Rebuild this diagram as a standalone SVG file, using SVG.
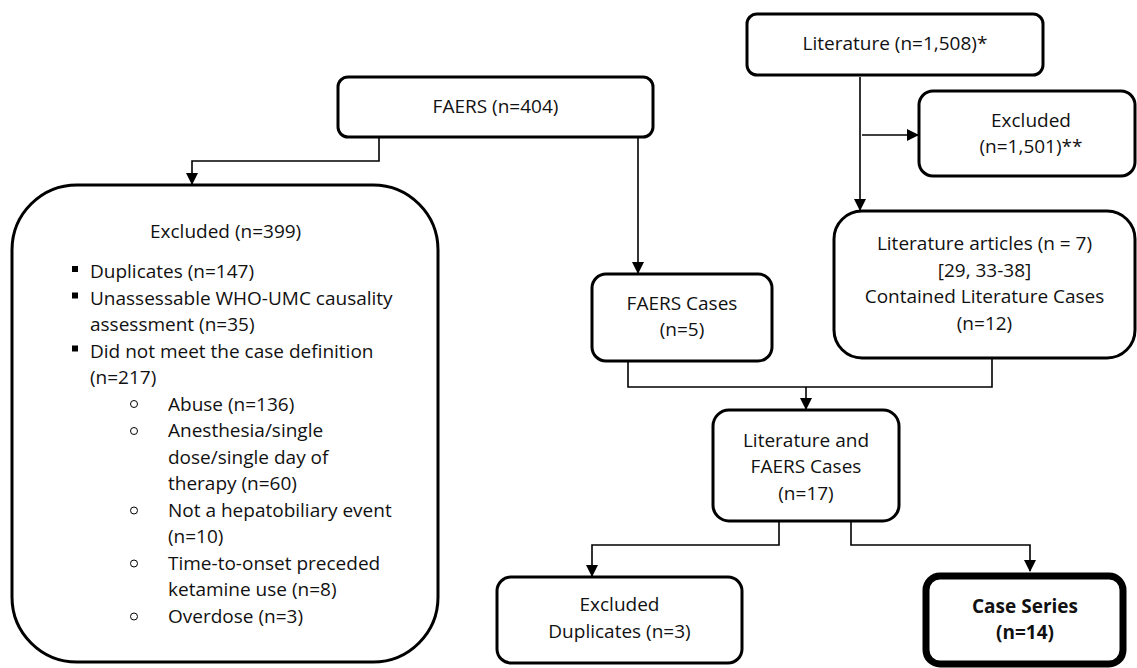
<svg xmlns="http://www.w3.org/2000/svg" width="1137" height="668" viewBox="0 0 1137 668">
<style>
.box{fill:#fff;stroke:#000;stroke-width:3}
.thick{fill:#fff;stroke:#000;stroke-width:7}
.conn{fill:none;stroke:#000;stroke-width:1.6}
text{font-family:"Open Sans","Liberation Sans",sans-serif;font-size:19px;fill:#111}
.c{text-anchor:middle}
.b{font-weight:bold}
.sq{fill:#000}
.ci{fill:none;stroke:#000;stroke-width:1}
</style>
<defs>
<marker id="ah" markerUnits="userSpaceOnUse" markerWidth="12" markerHeight="12" refX="11" refY="6" orient="auto">
<path d="M0,0 L12,6 L0,12 z" fill="#000"/>
</marker>
</defs>
<rect width="1137" height="668" fill="#fff"/>
<g id="connectors">
<path class="conn" d="M379,137 V161 H192 V184" marker-end="url(#ah)"/>
<path class="conn" d="M638,137 V273" marker-end="url(#ah)"/>
<path class="conn" d="M860,77 V210" marker-end="url(#ah)"/>
<path class="conn" d="M862,135 H918" marker-end="url(#ah)"/>
<path class="conn" d="M628,361 V387 H992 V359"/>
<path class="conn" d="M806,387 V409" marker-end="url(#ah)"/>
<path class="conn" d="M779,521 V545 H592 V576" marker-end="url(#ah)"/>
<path class="conn" d="M851,521 V545 H1030 V571" marker-end="url(#ah)"/>
</g>
<g id="faers">
<rect class="box" x="338" y="77" width="315" height="60" rx="10"/>
<text class="c" x="495.5" y="113">FAERS (n=404)</text>
</g>
<g id="literature">
<rect class="box" x="747" y="14" width="296" height="61" rx="10"/>
<text class="c" x="895" y="50">Literature (n=1,508)*</text>
</g>
<g id="excluded-lit">
<rect class="box" x="919" y="91" width="216" height="85" rx="14"/>
<text class="c" x="1031" y="127">Excluded</text>
<text class="c" x="1031" y="153">(n=1,501)**</text>
</g>
<g id="lit-articles">
<rect class="box" x="834" y="211" width="301" height="147" rx="28"/>
<text class="c" x="984.5" y="250">Literature articles (n = 7)</text>
<text class="c" x="984.5" y="276.5">[29, 33-38]</text>
<text class="c" x="984.5" y="303">Contained Literature Cases</text>
<text class="c" x="984.5" y="329.5">(n=12)</text>
</g>
<g id="faers-cases">
<rect class="box" x="592" y="274" width="180" height="87" rx="14"/>
<text class="c" x="682" y="310">FAERS Cases</text>
<text class="c" x="682" y="336">(n=5)</text>
</g>
<g id="combined">
<rect class="box" x="713" y="410" width="186" height="111" rx="16"/>
<text class="c" x="806" y="446.5">Literature and</text>
<text class="c" x="806" y="473">FAERS Cases</text>
<text class="c" x="806" y="499.5">(n=17)</text>
</g>
<g id="excluded-dup">
<rect class="box" x="497" y="577" width="245" height="86" rx="14"/>
<text class="c" x="619.5" y="611">Excluded</text>
<text class="c" x="619.5" y="638">Duplicates (n=3)</text>
</g>
<g id="case-series">
<rect class="thick" x="926" y="576" width="197" height="88" rx="14"/>
<text class="c b" x="1025" y="612.5">Case Series</text>
<text class="c b" x="1025" y="638.5">(n=14)</text>
</g>
<g id="excluded-faers">
<rect class="box" x="12" y="185" width="426" height="477" rx="65"/>
<text x="150" y="238">Excluded (n=399)</text>
<rect class="sq" x="72" y="266" width="6" height="6"/>
<text x="90" y="278">Duplicates (n=147)</text>
<rect class="sq" x="72" y="292.5" width="6" height="6"/>
<text x="90" y="304.5">Unassessable WHO-UMC causality</text>
<text x="90" y="331">assessment (n=35)</text>
<rect class="sq" x="72" y="345.5" width="6" height="6"/>
<text x="90" y="357.5">Did not meet the case definition</text>
<text x="90" y="384">(n=217)</text>
<circle class="ci" cx="134" cy="404" r="3.5"/>
<text x="168" y="410.5">Abuse (n=136)</text>
<circle class="ci" cx="134" cy="431" r="3.5"/>
<text x="168" y="437">Anesthesia/single</text>
<text x="168" y="463.5">dose/single day of</text>
<text x="168" y="490">therapy (n=60)</text>
<circle class="ci" cx="134" cy="510.5" r="3.5"/>
<text x="168" y="516.5">Not a hepatobiliary event</text>
<text x="168" y="543">(n=10)</text>
<circle class="ci" cx="134" cy="563.5" r="3.5"/>
<text x="168" y="569.5">Time-to-onset preceded</text>
<text x="168" y="596">ketamine use (n=8)</text>
<circle class="ci" cx="134" cy="616.5" r="3.5"/>
<text x="168" y="622.5">Overdose (n=3)</text>
</g>
</svg>
